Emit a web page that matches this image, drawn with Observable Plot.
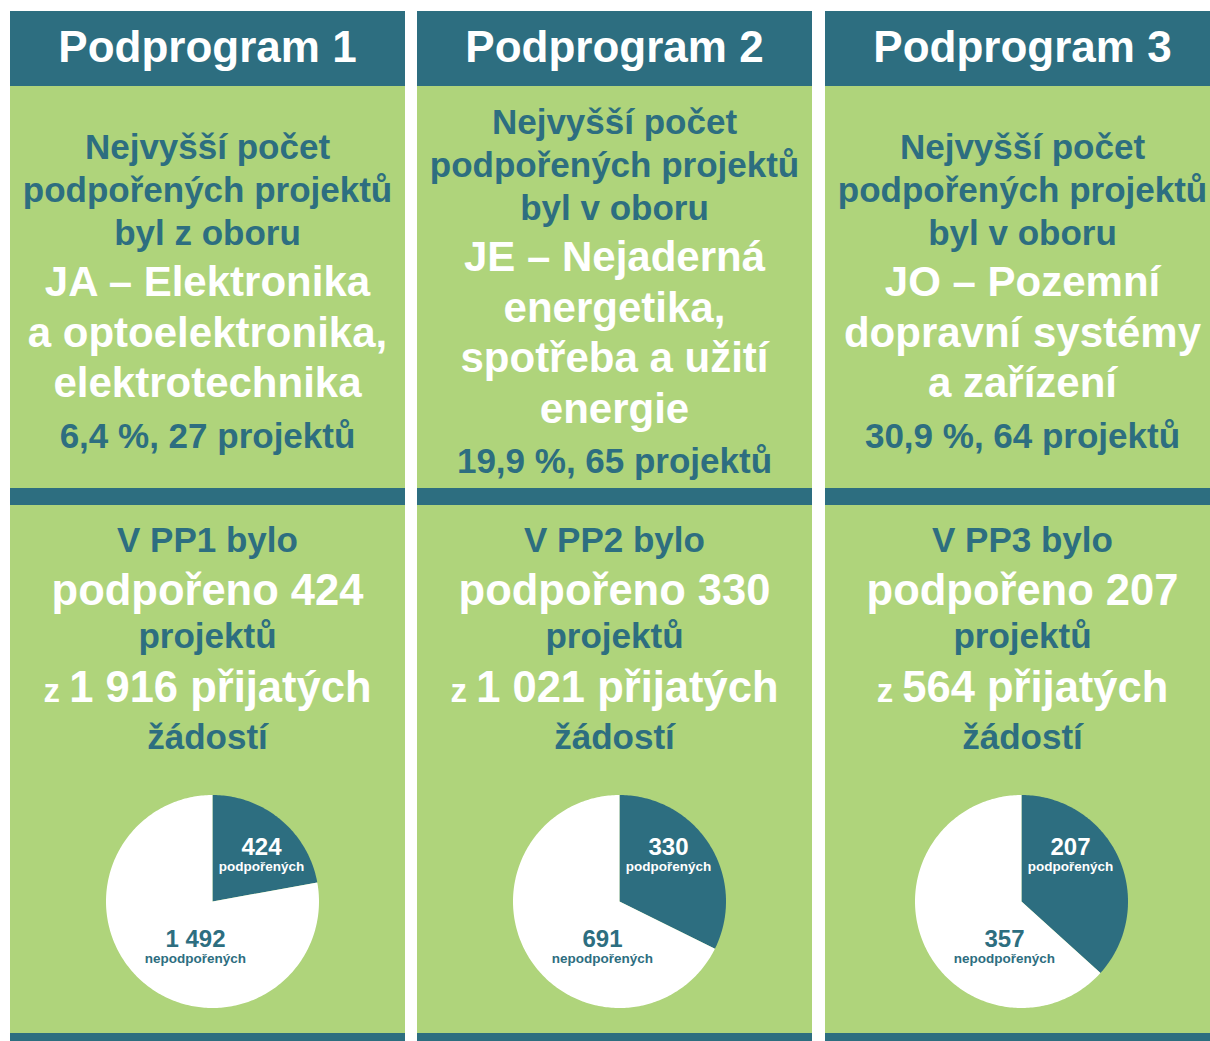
<!DOCTYPE html>
<html><head><meta charset="utf-8">
<script src="https://cdn.jsdelivr.net/npm/d3@7"></script>
<script src="https://cdn.jsdelivr.net/npm/@observablehq/plot@0.6"></script>
<style>
body{margin:0;background:#fff;font-family:"Liberation Sans",Arial,sans-serif;font-weight:bold}
#root{position:relative;width:1210px;height:1041px;overflow:hidden;background:#fff}
.col{position:absolute;top:11px;width:395px;height:1040px;background:#afd47b}
.head{position:absolute;left:0;right:0;top:0;height:75px;background:#2d6e80;color:#fff;font-size:44px;line-height:72px;text-align:center}
.mid{position:absolute;left:0;right:0;top:75px;height:410px;display:flex;flex-direction:column;justify-content:center;text-align:center}
.band{position:absolute;left:0;right:0;top:477px;height:17px;background:#2d6e80}
.foot{position:absolute;left:0;right:0;top:1022px;height:40px;background:#2d6e80}
.bottom{position:absolute;left:0;right:0;top:494px;padding-top:12.5px;text-align:center}
.t{color:#2d6e80;font-size:35px;line-height:43px;white-space:nowrap}
.w{color:#fff;font-size:42px;line-height:50.5px;white-space:nowrap}
.wb{color:#fff;font-size:43.5px;line-height:50.5px;white-space:nowrap}
.small{font-size:33px}
</style></head>
<body><div id="root"></div>
<script>
const programs = ["Podprogram 1", "Podprogram 2", "Podprogram 3"];
const introLines = [
  ["Nejvyšší počet", "podpořených projektů", "byl z oboru"],
  ["Nejvyšší počet", "podpořených projektů", "byl v oboru"],
  ["Nejvyšší počet", "podpořených projektů", "byl v oboru"]
];
const topFields = [
  ["JA – Elektronika", "a optoelektronika,", "elektrotechnika"],
  ["JE – Nejaderná", "energetika,", "spotřeba a užití", "energie"],
  ["JO – Pozemní", "dopravní systémy", "a zařízení"]
];
const topShares = ["6,4 %, 27 projektů", "19,9 %, 65 projektů", "30,9 %, 64 projektů"];
const codes = ["PP1", "PP2", "PP3"];
const supported = [424, 330, 207];
const notSupported = [1492, 691, 357];
const received = [1916, 1021, 564];
const sliceKeys = ["podpořeno", "nepodpořeno"];
const sliceLabels = ["podpořených", "nepodpořených"];

const TEAL = "#2d6e80";
const colLefts = [10, 417, 825];
const pieShift = [4, 4, -2];
const fmt = v => d3.format(",")(v).replace(/,/g, "\u00a0");

const root = document.getElementById("root");

programs.forEach((name, i) => {
  const col = document.createElement("div");
  col.className = "col";
  col.style.left = colLefts[i] + "px";
  root.appendChild(col);

  const head = document.createElement("div");
  head.className = "head";
  head.textContent = name;
  col.appendChild(head);

  const mid = document.createElement("div");
  mid.className = "mid";
  introLines[i].forEach(s => {
    const d = document.createElement("div"); d.className = "t"; d.textContent = s; mid.appendChild(d);
  });
  topFields[i].forEach((s, k) => {
    const d = document.createElement("div"); d.className = "w"; d.textContent = s;
    if (k === 0) d.style.marginTop = "3.25px";
    mid.appendChild(d);
  });
  const sh = document.createElement("div"); sh.className = "t"; sh.textContent = topShares[i];
  sh.style.marginTop = "5.25px"; mid.appendChild(sh);
  col.appendChild(mid);

  const band = document.createElement("div"); band.className = "band"; col.appendChild(band);
  const foot = document.createElement("div"); foot.className = "foot"; col.appendChild(foot);

  const bottom = document.createElement("div");
  bottom.className = "bottom";
  const l1 = document.createElement("div"); l1.className = "t"; l1.textContent = `V ${codes[i]} bylo`;
  const l2 = document.createElement("div"); l2.className = "wb"; l2.textContent = `podpořeno ${fmt(supported[i])}`; l2.style.marginTop = "4px";
  const l3 = document.createElement("div"); l3.className = "t"; l3.textContent = "projektů"; l3.style.marginTop = "-1px";
  const l4 = document.createElement("div"); l4.className = "wb"; l4.style.marginTop = "5px";
  const z = document.createElement("span"); z.className = "small"; z.textContent = "z ";
  l4.appendChild(z); l4.appendChild(document.createTextNode(`${fmt(received[i])} přijatých`));
  const l5 = document.createElement("div"); l5.className = "t"; l5.textContent = "žádostí"; l5.style.marginTop = "-2px";
  [l1, l2, l3, l4, l5].forEach(e => bottom.appendChild(e));
  col.appendChild(bottom);

  // pie
  const values = [supported[i], notSupported[i]];
  const arcs = d3.pie().sort(null)(values);
  const wedges = [];
  arcs.forEach((a, k) => {
    wedges.push({slice: sliceKeys[k], x: 0, y: 0});
    const n = Math.max(2, Math.ceil((a.endAngle - a.startAngle) / (Math.PI / 180)));
    for (let j = 0; j <= n; j++) {
      const t = a.startAngle + (a.endAngle - a.startAngle) * j / n;
      wedges.push({slice: sliceKeys[k], x: Math.sin(t), y: Math.cos(t)});
    }
    wedges.push({slice: sliceKeys[k], x: 0, y: 0});
  });
  const labels = [
    {slice: sliceKeys[0], value: fmt(values[0]), name: sliceLabels[0], x: 0.46, y: 0.42},
    {slice: sliceKeys[1], value: fmt(values[1]), name: sliceLabels[1], x: -0.16, y: -0.445}
  ];
  const R = 120 / 106.5;
  const chart = Plot.plot({
    width: 240, height: 240, margin: 0,
    x: {domain: [-R, R], axis: null},
    y: {domain: [-R, R], axis: null},
    color: {domain: sliceKeys, range: [TEAL, "#ffffff"]},
    style: {background: "transparent", fontFamily: "Liberation Sans, Arial, sans-serif", overflow: "visible"},
    marks: [
      Plot.line(wedges, {x: "x", y: "y", z: "slice", fill: "slice", stroke: "none"}),
      Plot.text(labels.slice(0, 1), {x: "x", y: "y", text: "value", fill: "#ffffff", fontSize: 24, fontWeight: "bold", dy: -9.5}),
      Plot.text(labels.slice(0, 1), {x: "x", y: "y", text: "name", fill: "#ffffff", fontSize: 13.5, fontWeight: "bold", dy: 9.5}),
      Plot.text(labels.slice(1), {x: "x", y: "y", text: "value", fill: TEAL, fontSize: 24, fontWeight: "bold", dy: -9.5}),
      Plot.text(labels.slice(1), {x: "x", y: "y", text: "name", fill: TEAL, fontSize: 13.5, fontWeight: "bold", dy: 9.5})
    ]
  });
  chart.style.position = "absolute";
  chart.style.left = (395 / 2 + pieShift[i] - 120) + "px";
  chart.style.top = "770px";
  col.appendChild(chart);
});
</script></body></html>
